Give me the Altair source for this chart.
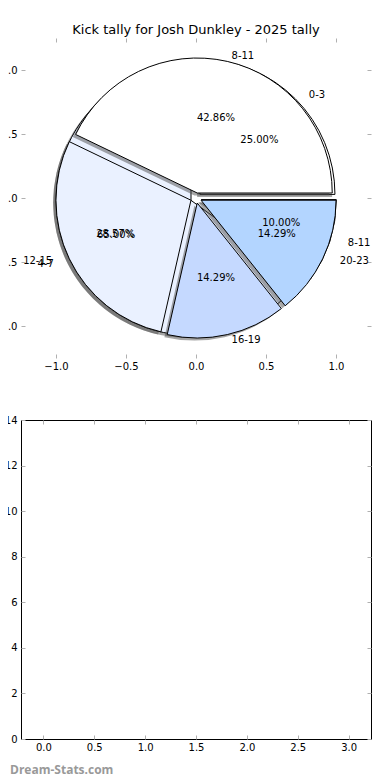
import math
import altair as alt
import pandas as pd

# ---------------- data ----------------
title_text = "Kick tally for Josh Dunkley - 2025 tally"
watermark_text = "Dream-Stats.com"

pie1_labels = ["8-11", "12-15", "16-19", "20-23"]
pie1_values = [3, 2, 1, 1]
pie2_labels = ["0-3", "4-7", "8-11"]
pie2_values = [25, 65, 10]

pie1_colors = ["#ffffff", "#eaf1ff", "#c5d9ff", "#b3d5ff"]
pie2_colors = ["#ffffff", "#eaf1ff", "#c5d9ff"]

top_x_ticks = [-1.0, -0.5, 0.0, 0.5, 1.0]
top_y_ticks = [-1.0, -0.5, 0.0, 0.5, 1.0]
bottom_x_ticks = [0.0, 0.5, 1.0, 1.5, 2.0, 2.5, 3.0]
bottom_y_ticks = [0, 2, 4, 6, 8, 10, 12, 14]

EXPLODE = 0.04
SHADOW = 0.02
R = 135
FONT = "DejaVu Sans"


def pie_table(name, labels, values):
    total = float(sum(values))
    rows = []
    c = 0.0
    for lab, v in zip(labels, values):
        f0 = c / total
        c += v
        f1 = c / total
        mid = math.pi * (f0 + f1)
        cx = EXPLODE * math.cos(mid)
        cy = EXPLODE * math.sin(mid)
        lx = cx + 1.1 * math.cos(mid)
        ly = cy + 1.1 * math.sin(mid)
        rows.append(dict(
            key=f"{name}:{lab}", label=lab, f0=f0, f1=f1,
            cx=cx, cy=cy, sx=cx - SHADOW, sy=cy - SHADOW,
            lx=lx, ly=ly,
            px=cx + 0.6 * math.cos(mid), py=cy + 0.6 * math.sin(mid),
            pct=f"{100 * v / total:.2f}%",
            side="left" if lx > 0 else "right",
        ))
    return pd.DataFrame(rows)


p1 = pie_table("p1", pie1_labels, pie1_values)
p2 = pie_table("p2", pie2_labels, pie2_values)

xs = alt.Scale(domain=[-1.25, 1.25], nice=False, zero=False)
ys = alt.Scale(domain=[-1.25, 1.25], nice=False, zero=False)
ts = alt.Scale(domain=[0, 1], range=[2.5 * math.pi, 0.5 * math.pi])
cs = alt.Scale(domain=list(p1["key"]) + list(p2["key"]),
               range=pie1_colors + pie2_colors)


def shadows(df):
    return alt.Chart(df).mark_arc(radius=R, fill="#4d4d4d", opacity=0.5).encode(
        x=alt.X("sx:Q", scale=xs, axis=None),
        y=alt.Y("sy:Q", scale=ys, axis=None),
        theta=alt.Theta("f0:Q", scale=ts),
        theta2="f1:Q",
    )


def wedges(df):
    return alt.Chart(df).mark_arc(radius=R, stroke="black", strokeWidth=1).encode(
        x=alt.X("cx:Q", scale=xs, axis=None),
        y=alt.Y("cy:Q", scale=ys, axis=None),
        theta=alt.Theta("f0:Q", scale=ts),
        theta2="f1:Q",
        color=alt.Color("key:N", scale=cs, legend=None),
    )


def outer_labels(df, side):
    return alt.Chart(df).transform_filter(alt.datum.side == side).mark_text(
        align=side, baseline="middle", font=FONT, fontSize=10, color="black"
    ).encode(
        x=alt.X("lx:Q", scale=xs, axis=None),
        y=alt.Y("ly:Q", scale=ys, axis=None),
        text="label:N",
    )


def pct_labels(df):
    return alt.Chart(df).mark_text(
        align="center", baseline="middle", font=FONT, fontSize=10, color="black"
    ).encode(
        x=alt.X("px:Q", scale=xs, axis=None),
        y=alt.Y("py:Q", scale=ys, axis=None),
        text="pct:N",
    )


AX = dict(domain=False, grid=False, ticks=True, tickSize=4, tickColor="#b0b0b0",
          tickWidth=1, offset=-4, title=None, labelFont=FONT, labelFontSize=10,
          labelColor="black", labelFlush=False, labelOverlap=False)


def frame_layers(xscale, yscale, xticks, yticks, xfmt, yfmt):
    df = pd.DataFrame({"x": [xticks[0], xticks[-1]], "y": [yticks[0], yticks[-1]]})
    a = alt.Chart(df).mark_point(opacity=0).encode(
        x=alt.X("x:Q", scale=xscale,
                axis=alt.Axis(orient="bottom", values=xticks, format=xfmt,
                              labelPadding=3, **AX)),
        y=alt.Y("y:Q", scale=yscale,
                axis=alt.Axis(orient="left", values=yticks, format=yfmt,
                              labelPadding=4, **AX)),
    )
    b = alt.Chart(df).mark_point(opacity=0).encode(
        x=alt.X("x:Q", scale=xscale,
                axis=alt.Axis(orient="top", values=xticks, labels=False, **AX)),
        y=alt.Y("y:Q", scale=yscale,
                axis=alt.Axis(orient="right", values=yticks, labels=False, **AX)),
    )
    return [a, b]


top = alt.layer(
    shadows(p2), wedges(p2), shadows(p1), wedges(p1),
    outer_labels(p2, "left"), outer_labels(p2, "right"),
    outer_labels(p1, "left"), outer_labels(p1, "right"),
    pct_labels(p2), pct_labels(p1),
    *frame_layers(xs, ys, top_x_ticks, top_y_ticks, ".1f", ".1f"),
).resolve_axis(x="independent", y="independent").properties(
    width=350, height=320,
    title=alt.TitleParams(title_text, font=FONT, fontSize=13, fontWeight="normal",
                          color="black", anchor="middle", frame="group", offset=1),
)

bxs = alt.Scale(domain=[-0.22, 3.22], nice=False, zero=False)
bys = alt.Scale(domain=[0, 14], nice=False, zero=False)

bottom = alt.layer(
    *frame_layers(bxs, bys, bottom_x_ticks, bottom_y_ticks, ".1f", "d"),
).resolve_axis(x="independent", y="independent").properties(
    width=350, height=319,
    view=alt.ViewBackground(stroke="black", strokeWidth=1),
    title=alt.TitleParams(watermark_text, orient="bottom", anchor="start",
                          frame="group", dx=-11, offset=13, font="Open Sans",
                          fontSize=12, fontWeight="bold", color="#999999"),
)

chart = alt.vconcat(top, bottom, spacing=62, bounds="flush").properties(
    padding={"left": -16, "top": 15, "right": 0, "bottom": 0},
).configure_view(stroke="transparent")

chart.save("out.html", embed_options={"renderer": "svg", "actions": False})
